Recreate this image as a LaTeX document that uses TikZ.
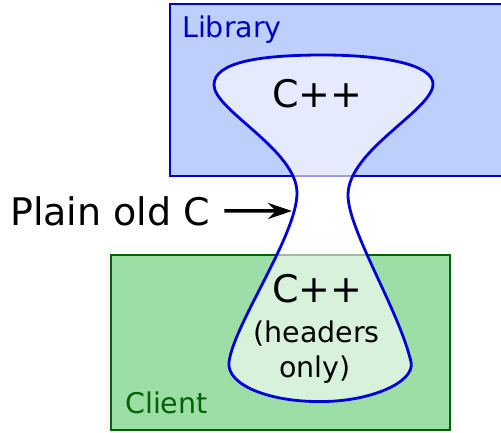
\documentclass[tikz,border=0pt]{standalone}
\usepackage{fontspec}
\setmainfont{DejaVu Sans}
\usetikzlibrary{arrows.meta}
\definecolor{libfill}{RGB}{190,207,251}
\definecolor{libline}{RGB}{0,0,204}
\definecolor{clifill}{RGB}{157,222,167}
\definecolor{cliline}{RGB}{0,100,0}
\definecolor{shapeline}{RGB}{0,0,220}
\tikzset{
  boxlib/.style={fill=libfill,draw=libline,line width=2.5pt},
  boxcli/.style={fill=clifill,draw=cliline,line width=2.5pt},
  bigtext/.style={font=\fontsize{38}{44}\selectfont,inner sep=0pt},
  smalltext/.style={font=\fontsize{28.5}{34}\selectfont,inner sep=0pt},
  flask/.style={fill=white,fill opacity=0.6,draw=shapeline,draw opacity=1,line width=2.8pt},
  pointer/.style={-{Stealth[length=24pt,width=16pt,inset=8pt]},line width=3.5pt,black}
}
\begin{document}
\begin{tikzpicture}[x=1pt,y=-1pt]
\useasboundingbox (0,0) rectangle (501,432);
\begin{scope}
\clip (0,0) rectangle (501,432);
\path[boxlib] (170,4) rectangle (520,176);
\path[boxcli] (111,255) rectangle (450,430);
\end{scope}
\path[flask] (323,55)
  .. controls (385,55) and (433,65) .. (433,84)
  .. controls (433,110) and (348,150) .. (348,195)
  .. controls (348,230) and (399,310) .. (411,362)
  .. controls (415.6,382) and (370,402) .. (320,401.5)
  .. controls (270,402) and (226,385) .. (229,362)
  .. controls (234,324) and (297,235) .. (297,193)
  .. controls (297,150) and (214,110) .. (214,85)
  .. controls (214,62) and (260,55) .. (323,55) -- cycle;
\node[smalltext,text=libline,anchor=base west] (lib) at (182,37) {Library};
\node[smalltext,text=cliline,anchor=base west] (cli) at (125,413) {Client};
\node[bigtext,anchor=base] (cpptop) at (317.5,107) {C++};
\node[bigtext,anchor=base] (cppbot) at (317.5,302) {C++};
\node[smalltext,anchor=base] (hdr) at (316.5,342) {(headers};
\node[smalltext,anchor=base] (only) at (315,377) {only)};
\node[bigtext,anchor=base west] (plain) at (10,225) {Plain old C};
\coordinate (neck) at (292,211);
\draw[pointer,shorten <=14pt] (plain.east) -- (neck);
\end{tikzpicture}
\end{document}
